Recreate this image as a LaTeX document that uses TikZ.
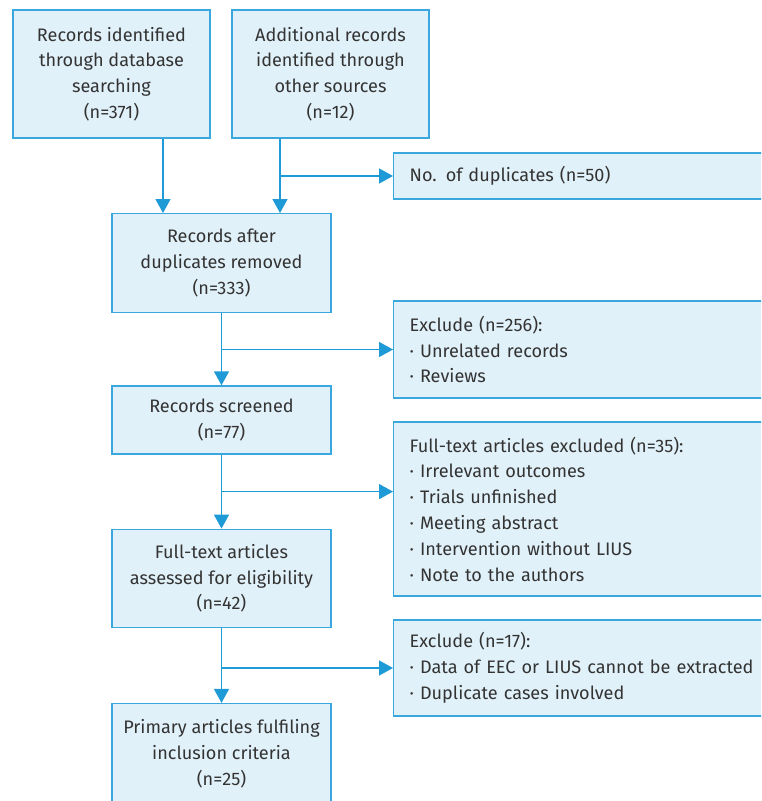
\documentclass[tikz,border=0pt]{standalone}
\usepackage{fontspec}
\setmainfont{Fira Sans}
\usetikzlibrary{arrows.meta,positioning,calc}
\definecolor{boxfill}{HTML}{E1F1F9}
\definecolor{boxline}{HTML}{3AA7DE}
\definecolor{arrowblue}{HTML}{1E9AD6}
\definecolor{textgray}{HTML}{333333}

\begin{document}
\begin{tikzpicture}[
  x=1pt, y=-1pt,
  font=\fontsize{18.1}{25.8}\selectfont,
  text=textgray,
  block/.style={draw=boxline, fill=boxfill, line width=1.3pt, align=center, inner sep=0pt, minimum width=219pt},
  srcbox/.style={block, minimum width=197pt, minimum height=128pt},
  side/.style={draw=boxline, fill=boxfill, line width=1.3pt, align=left, anchor=west, inner xsep=16pt, inner ysep=0pt, minimum width=380pt, text width=348pt},
  arrow/.style={-{Triangle[length=14pt,width=15pt]}, draw=arrowblue, line width=1.5pt}
]
\useasboundingbox (0,0) rectangle (761,801);
\clip (0,0) rectangle (761,801);

% left column
\node[srcbox] (db) at (111.5,74) {Records identified\\through database\\searching\\(n=371)};
\node[srcbox] (other) at (330.5,74) {Additional records\\identified through\\other sources\\(n=12)};
\node[block, minimum height=99pt, anchor=north] (dedup) at (221.5,213) {Records after\\duplicates removed\\(n=333)};
\node[block, minimum height=68pt, below=72pt of dedup] (screen) {Records screened\\(n=77)};
\node[block, minimum height=98pt, below=74pt of screen] (fulltext) {Full-text articles\\assessed for eligibility\\(n=42)};
\node[block, minimum height=100pt, below=75pt of fulltext] (included) {Primary articles fulfiling\\inclusion criteria\\(n=25)};

% right column
\node[side, minimum height=46pt] (dup) at (393,176) {No. of duplicates (n=50)};
\node[side, minimum height=97pt] (excla) at (393,349.5) {Exclude (n=256):\\· Unrelated records\\· Reviews};
\node[side, minimum height=174pt] (exclb) at (393,509) {Full-text articles excluded (n=35):\\· Irrelevant outcomes\\· Trials unfinished\\· Meeting abstract\\· Intervention without LIUS\\· Note to the authors};
\node[side, minimum height=96pt] (exclc) at (393,668) {Exclude (n=17):\\· Data of EEC or LIUS cannot be extracted\\· Duplicate cases involved};

% arrows
\coordinate (inl) at ([xshift=-58.5pt]dedup.north);
\coordinate (inr) at ([xshift=58.5pt]dedup.north);
\draw[arrow] (inl |- db.south) -- (inl);
\draw[arrow] (inr |- other.south) -- (inr);
\draw[arrow] (inr |- dup.west) -- (dup.west);

\draw[arrow] (dedup) -- (screen);
\draw[arrow] (dedup.south |- excla.west) -- (excla.west);
\draw[arrow] (screen) -- (fulltext);
\coordinate (brb) at ($(screen.south)!.5!(fulltext.north)$);
\draw[arrow] (brb) -- (brb -| exclb.west);
\draw[arrow] (fulltext) -- (included);
\draw[arrow] (fulltext.south |- exclc.west) -- (exclc.west);
\end{tikzpicture}
\end{document}
